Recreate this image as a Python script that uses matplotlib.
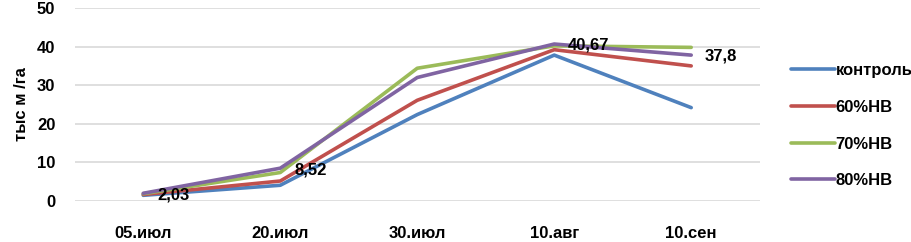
import matplotlib
matplotlib.use("Agg")
import matplotlib.pyplot as plt

# values
dates = ["05.июл", "20.июл", "30.июл", "10.авг", "10.сен"]
control = [1.5, 4.1, 22.4, 37.8, 24.2]
hb60 = [1.7, 5.2, 26.1, 39.2, 35.0]
hb70 = [1.9, 7.4, 34.4, 40.2, 39.8]
hb80 = [2.03, 8.52, 32.0, 40.67, 37.8]

series = [
    ("контроль", control, "#4F81BD"),
    ("60%НВ", hb60, "#C0504D"),
    ("70%НВ", hb70, "#9BBB59"),
    ("80%НВ", hb80, "#8064A2"),
]
labelled = hb80
label_text = ["2,03", "8,52", "40,67", "37,8"]
label_idx = [0, 1, 3, 4]

plt.rcParams["font.family"] = ["Liberation Sans", "DejaVu Sans"]
plt.rcParams["font.weight"] = "bold"
FS = 12

fig = plt.figure(figsize=(9.12, 2.42), dpi=100)
ax = fig.add_axes([0.082, 0.169, 0.751, 0.798])

x = list(range(len(dates)))
for name, vals, color in series:
    ax.plot(x, vals, color=color, linewidth=2.6, label=name, solid_capstyle="round")

for i, txt in zip(label_idx, label_text):
    ax.annotate(txt, (x[i], labelled[i]), xytext=(10, -1),
                textcoords="offset points", ha="left", va="center",
                fontsize=FS, fontweight="bold", color="black")

ax.set_xlim(-0.5, len(dates) - 0.5)
ax.set_ylim(0, 50)
ax.set_yticks(range(0, 51, 10))
ax.set_xticks(x)
ax.set_xticklabels(dates)
ax.grid(axis="y", color="#D9D9D9", linewidth=1.2)
ax.set_axisbelow(True)
for s in ax.spines.values():
    s.set_visible(False)
ax.tick_params(axis="both", length=0, labelsize=FS)
ax.tick_params(axis="x", pad=18)
ax.tick_params(axis="y", pad=14)
ax.set_ylabel("тыс м /га", fontsize=FS, fontweight="bold", labelpad=6)

ax.legend(loc="center left", bbox_to_anchor=(1.0, 0.39), frameon=False,
          fontsize=FS, handlelength=2.6, labelspacing=1.3, handletextpad=0.05,
          borderaxespad=1.5)

fig.savefig("out.png", dpi=100)
